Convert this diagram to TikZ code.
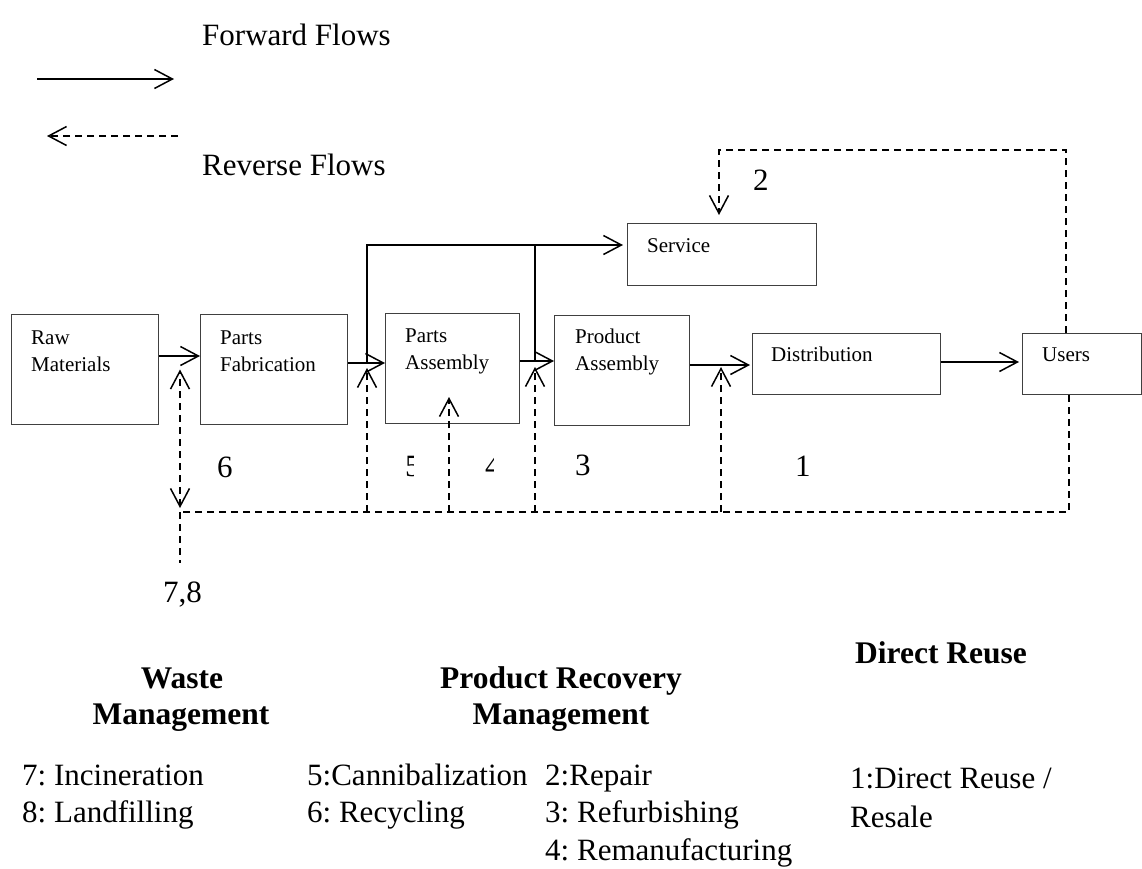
\documentclass[tikz,border=0pt]{standalone}
\usepackage{fontspec}
\setmainfont{Liberation Serif}
\usetikzlibrary{arrows.meta}
\frenchspacing
\begin{document}
\begin{tikzpicture}[x=1pt,y=-1pt,
  box/.style={draw=black!75,line width=1pt,inner sep=0pt,anchor=north west},
  boxtext/.style={inner sep=0pt,anchor=base west,font=\fontsize{21}{25}\selectfont},
  numlabel/.style={inner sep=0pt,anchor=base west,font=\fontsize{31}{37}\selectfont},
  bighead/.style={inner sep=0pt,anchor=base,font=\fontsize{31.5}{37}\selectfont\bfseries},
  listtext/.style={inner sep=0pt,anchor=base west,font=\fontsize{31}{37}\selectfont},
  barb/.tip={Straight Barb[length=18pt,width=19pt,line width=1.5pt]},
  fwd/.style={line width=1.5pt,-barb},
  rev/.style={line width=1.5pt,dash pattern=on 7pt off 5pt,-barb},
  revline/.style={line width=1.5pt,dash pattern=on 7pt off 5pt}]
\useasboundingbox (0,0) rectangle (1142,868);

% legend
\node[numlabel] (fwdtxt) at (202,45) {Forward Flows};
\coordinate (lf1) at (37,79);
\coordinate (lf2) at (174,79);
\draw[fwd] (lf1) -- (lf2);
\coordinate (lr1) at (178,136);
\coordinate (lr2) at (47,136);
\draw[rev] (lr1) -- (lr2);
\node[numlabel] (revtxt) at (202,175) {Reverse Flows};

% process boxes
\node[box,minimum width=147pt,minimum height=110pt] (raw) at (11,314) {};
\node[box,minimum width=147pt,minimum height=110pt] (fab) at (200,314) {};
\node[box,minimum width=134pt,minimum height=110pt] (pa) at (385,313) {};
\node[box,minimum width=135pt,minimum height=110pt] (proda) at (554,315) {};
\node[box,minimum width=189pt,minimum height=62pt] (serv) at (627,223) {};
\node[box,minimum width=188pt,minimum height=61pt] (dist) at (752,333) {};
\node[box,minimum width=119pt,minimum height=61pt] (users) at (1022,333) {};

\node[boxtext] (rawa) at (31,344) {Raw};
\node[boxtext] (rawb) at (31,371) {Materials};
\node[boxtext] (faba) at (220,344) {Parts};
\node[boxtext] (fabb) at (220,371) {Fabrication};
\node[boxtext] (paa) at (405,342) {Parts};
\node[boxtext] (pab) at (405,369) {Assembly};
\node[boxtext] (prodaa) at (575,343) {Product};
\node[boxtext] (prodab) at (575,370) {Assembly};
\node[boxtext] (servt) at (647,252) {Service};
\node[boxtext] (distt) at (771,361) {Distribution};
\node[boxtext] (userst) at (1042,361) {Users};

% forward flows
\draw[fwd] (raw.east |- 0,356) -- (fab.west |- 0,356);
\draw[fwd] (fab.east |- 0,363) -- (pa.west |- 0,363);
\coordinate (br1) at (367,363);
\coordinate (br2) at (535,361);
\draw[fwd] (br1) |- ([xshift=-4pt]serv.west |- 0,245);
\draw[line width=1.5pt] (br2) -- (br2 |- 0,245);
\draw[fwd] (pa.east |- 0,361) -- (proda.west |- 0,361);
\draw[fwd] (proda.east |- 0,365) -- ([xshift=-2pt]dist.west |- 0,365);
\draw[fwd] (dist.east |- 0,362) -- ([xshift=-3pt]users.west |- 0,362);

% reverse flows
\coordinate (rl) at (180,512);
\coordinate (wm) at (180,563);
\draw[revline] (users.south -| 1069,0) |- (rl);
\draw[revline] (rl) -- (wm);
\draw[rev,{barb}-{barb}] (180,508) -- (raw.east -| 180,361);
\draw[rev] (367,512) -- (367,368);
\draw[rev] (449,512) -- (449,397);
\draw[rev] (535,512) -- (535,367);
\draw[rev] (721,512) -- (721,367);
\coordinate (topc) at (1066,150);
\draw[rev] (users.north -| 1066,0) -- (topc) -| ([yshift=8pt]serv.north -| 719,0);

% flow numbers
\node[numlabel] (n2) at (753,190) {2};
\node[numlabel] (n6) at (217,477) {6};
\node[numlabel] (n3) at (575,475) {3};
\node[numlabel] (n1) at (795,476) {1};
\node[numlabel] (n78) at (163,602) {7,8};
\begin{scope}
  \clip (405,440) rectangle (413,485);
  \node[numlabel] (n5) at (405,476) {5};
\end{scope}
\begin{scope}
  \clip (484,440) rectangle (493,485);
  \node[numlabel] (n4) at (485,476) {4};
\end{scope}

% categories
\node[bighead] (wa) at (182,688) {Waste};
\node[bighead] (wb) at (181,724) {Management};
\node[bighead] (pra) at (561,688) {Product Recovery};
\node[bighead] (prb) at (561,724) {Management};
\node[bighead] (dr) at (941,663) {Direct Reuse};

\node[listtext] (l7) at (22,785) {7: Incineration};
\node[listtext] (l8) at (22,822) {8: Landfilling};
\node[listtext] (l5) at (307,785) {5:Cannibalization};
\node[listtext] (l6) at (307,822) {6: Recycling};
\node[listtext] (l2) at (545,785) {2:Repair};
\node[listtext] (l3) at (545,822) {3: Refurbishing};
\node[listtext] (l4) at (545,860) {4: Remanufacturing};
\node[listtext] (l1a) at (850,788) {1:Direct Reuse /};
\node[listtext] (l1b) at (850,827) {Resale};
\end{tikzpicture}
\end{document}
